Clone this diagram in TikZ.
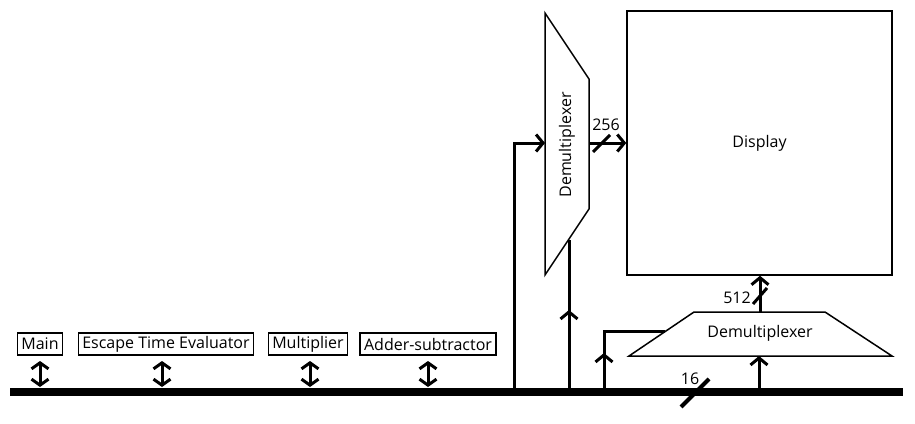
\documentclass[tikz,border=0pt]{standalone}
\usepackage{fontspec}
\setmainfont{Open Sans}
\usetikzlibrary{arrows.meta}

\begin{document}
\begin{tikzpicture}[x=1pt,y=-1pt,
  font=\fontsize{16}{19}\selectfont,
  unit/.style={draw,line width=1.5pt,inner xsep=4pt,inner ysep=1pt,minimum height=22pt},
  wire/.style={line width=3pt,-{Straight Barb[length=7pt,width=17pt]}},
  biwire/.style={line width=3pt,{Straight Barb[length=6pt,width=17pt]}-{Straight Barb[length=6pt,width=17pt]}},
  plain/.style={line width=3pt},
  mux/.style={draw,line width=1.5pt,fill=white},
  slash/.style={line width=3pt},
]
\useasboundingbox (0,0) rectangle (915,423);

% шина
\coordinate (busL) at (10,392);
\coordinate (busR) at (903,392);
\draw[line width=8pt] (busL) -- (busR);

% блоки на шине
\node[unit] (main) at (40,344) {Main};
\node[unit] (ete) at (166,344) {Escape Time Evaluator};
\node[unit] (mult) at (308,344) {Multiplier};
\node[unit] (addsub) at (428,344) {Adder-subtractor};
\foreach \b/\x in {main/40,ete/162,mult/310,addsub/428}
  \draw[biwire] (\x,361) -- (\x,387);

% дисплей
\node[draw,line width=1.5pt,minimum width=265pt,minimum height=264pt] (display) at (759.5,143) {Display};

% вертикальный демультиплексор
\draw[mux] (545,13) -- (589,79) -- (589,209) -- (545,275) -- cycle;
\node[rotate=90] (vdemux) at (567,145) {Demultiplexer};
\coordinate (vin) at (545,143);
\coordinate (vout) at (589,143);
\coordinate (vsel) at (569,240);
\draw[wire] (514,392) |- (vin);
\draw[wire] (vout) -- (display.west);
\draw[slash] (593,152) -- (610,135);
\node (n256) at (606,125) {256};
\draw[wire] (569,392) -- (569,310);
\draw[plain] (569,312) -- (vsel);

% горизонтальный демультиплексор
\draw[mux] (629,356) -- (694,312) -- (825,312) -- (892,356) -- cycle;
\node (hdemux) at (760,333) {Demultiplexer};
\coordinate (hsel) at (665,331);
\coordinate (hin) at (759,356);
\coordinate (hout) at (760,312);
\draw[wire] (604,392) -- (604,353);
\draw[plain] (604,355) |- (hsel);
\draw[wire] (759,392) -- (hin);
\draw[wire] (hout) -- (display.south -| hout);
\draw[slash] (753,304) -- (767,288);
\node (n512) at (737,298) {512};

% ширина шины
\draw[line width=4pt] (681,407) -- (709,379);
\node (n16) at (690,379) {16};
\end{tikzpicture}
\end{document}
